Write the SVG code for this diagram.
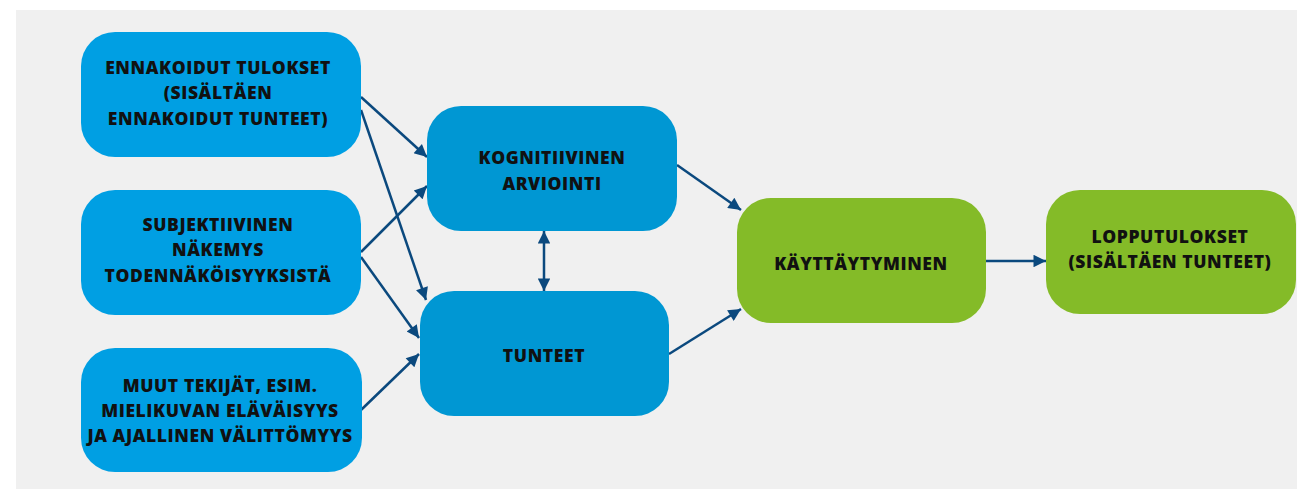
<svg xmlns="http://www.w3.org/2000/svg" width="1297" height="489" viewBox="0 0 1297 489">
<defs>
<style>
.bg{fill:#f0f0f0}
.n1{fill:#009fe3}
.n2{fill:#0097d3}
.g{fill:#84bb28}
.t{font-family:"Open Sans","Liberation Sans",sans-serif;font-weight:800;font-size:17.5px;letter-spacing:0.6px;fill:#111;text-anchor:middle}
.c{stroke:#0b497e;stroke-width:2.5;fill:none;marker-end:url(#ah)}
</style>
<marker id="ah" viewBox="0 0 10 10" refX="10" refY="5" markerWidth="6.5" markerHeight="5" orient="auto" markerUnits="strokeWidth">
<path d="M0,0 L10,5 L0,10 z" fill="#0b497e"/>
</marker>
<marker id="as" viewBox="0 0 10 10" refX="10" refY="5" markerWidth="6.5" markerHeight="5" orient="auto-start-reverse" markerUnits="strokeWidth">
<path d="M0,0 L10,5 L0,10 z" fill="#0b497e"/>
</marker>
</defs>
<rect class="bg" x="16" y="10" width="1281" height="479"/>
<g id="connectors">
<line class="c" x1="361" y1="97" x2="427" y2="157"/>
<line class="c" x1="361" y1="110" x2="426" y2="300"/>
<line class="c" x1="361" y1="252" x2="427" y2="186"/>
<line class="c" x1="361" y1="257" x2="419" y2="338"/>
<line class="c" x1="361" y1="410" x2="419" y2="354"/>
<line class="c" x1="544" y1="231" x2="544" y2="291" style="marker-start:url(#as)"/>
<line class="c" x1="677" y1="165" x2="741" y2="210"/>
<line class="c" x1="669" y1="354" x2="741" y2="309"/>
<line class="c" x1="986" y1="261" x2="1046" y2="261"/>
</g>
<g id="ennakoidut">
<rect class="n1" x="81" y="32" width="280" height="125" rx="34"/>
<text class="t" x="218" y="74">ENNAKOIDUT TULOKSET</text>
<text class="t" x="218" y="99">(SISÄLTÄEN</text>
<text class="t" x="218" y="125">ENNAKOIDUT TUNTEET)</text>
</g>
<g id="subjektiivinen">
<rect class="n1" x="81" y="190" width="280" height="125" rx="34"/>
<text class="t" x="218" y="231">SUBJEKTIIVINEN</text>
<text class="t" x="218" y="256">NÄKEMYS</text>
<text class="t" x="218" y="282">TODENNÄKÖISYYKSISTÄ</text>
</g>
<g id="muut">
<rect class="n1" x="81" y="348" width="281" height="124" rx="34"/>
<text class="t" x="220" y="392">MUUT TEKIJÄT, ESIM.</text>
<text class="t" x="220" y="417">MIELIKUVAN ELÄVÄISYYS</text>
<text class="t" x="220" y="442">JA AJALLINEN VÄLITTÖMYYS</text>
</g>
<g id="kognitiivinen">
<rect class="n2" x="427" y="106" width="250" height="125" rx="34"/>
<text class="t" x="552" y="164">KOGNITIIVINEN</text>
<text class="t" x="552" y="190">ARVIOINTI</text>
</g>
<g id="tunteet">
<rect class="n2" x="420" y="291" width="249" height="125" rx="34"/>
<text class="t" x="544" y="362">TUNTEET</text>
</g>
<g id="kayttaytyminen">
<rect class="g" x="737" y="198" width="249" height="125" rx="34"/>
<text class="t" x="861" y="270">KÄYTTÄYTYMINEN</text>
</g>
<g id="lopputulokset">
<rect class="g" x="1046" y="190" width="250" height="124" rx="34"/>
<text class="t" x="1170" y="243">LOPPUTULOKSET</text>
<text class="t" x="1170" y="268">(SISÄLTÄEN TUNTEET)</text>
</g>
</svg>
